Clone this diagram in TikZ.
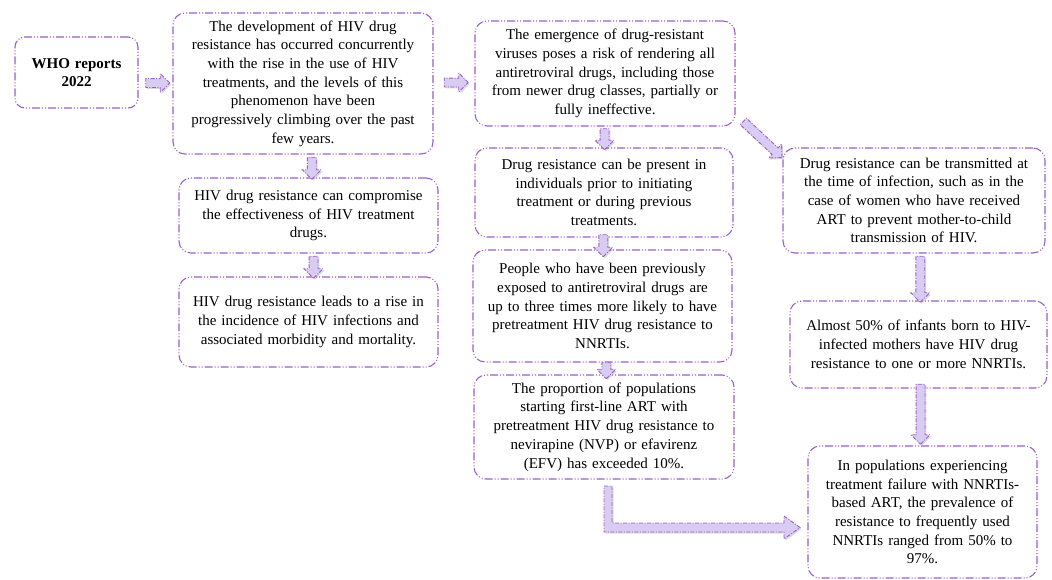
\documentclass[tikz,border=0pt]{standalone}
\usepackage{fontspec}
\setmainfont{Liberation Serif}
\usetikzlibrary{shapes.arrows, shadows, calc}

\definecolor{boxline}{RGB}{155,95,200}
\definecolor{arrowfill}{RGB}{217,204,242}
\newcommand{\boxfont}{\fontsize{15pt}{18.7pt}\selectfont}

\begin{document}
\begin{tikzpicture}[
    x=1pt, y=-1pt,
    box/.style={
      draw=boxline, line width=1.1pt, rounded corners=12pt,
      dash pattern=on 8pt off 2pt on 1pt off 2pt on 1pt off 2pt,
      align=center, inner sep=0pt, font=\boxfont
    },
    fatarrow/.style={
      single arrow, draw=boxline, fill=arrowfill, line width=0.9pt,
      dash pattern=on 4pt off 1.5pt on 1pt off 1.5pt,
      inner sep=0pt, text height=4pt, text depth=4pt,
      single arrow head extend=5pt,
      drop shadow={opacity=0.3, shadow xshift=1.5pt, shadow yshift=-1.5pt}
    }
  ]
  \useasboundingbox (0,0) rectangle (1052,579);

  % left column
  \node[box, minimum width=123pt, minimum height=71pt, text width=110pt,
    font=\boxfont\bfseries, rounded corners=10pt] (who) at (76.5,72.5)
    {WHO reports\\2022};
  \node[box, minimum width=260pt, minimum height=141pt, text width=244pt] (dev) at (303,83.5)
    {The development of HIV drug\\resistance has occurred concurrently\\with the rise in the use of HIV\\treatments, and the levels of this\\phenomenon have been\\progressively climbing over the past\\few years.};
  \node[box, minimum width=259pt, minimum height=75pt, text width=244pt] (comp) at (308.5,215.5)
    {HIV drug resistance can compromise\\the effectiveness of HIV treatment\\drugs.};
  \node[box, minimum width=259pt, minimum height=90pt, text width=244pt] (rise) at (308.5,322)
    {HIV drug resistance leads to a rise in\\the incidence of HIV infections and\\associated morbidity and mortality.};

  % middle column
  \node[box, minimum width=260pt, minimum height=105pt, text width=244pt] (emer) at (605,73.5)
    {The emergence of drug-resistant\\viruses poses a risk of rendering all\\antiretroviral drugs, including those\\from newer drug classes, partially or\\fully ineffective.};
  \node[box, minimum width=258pt, minimum height=89pt, text width=244pt] (pres) at (604,192.5)
    {Drug resistance can be present in\\individuals prior to initiating\\treatment or during previous\\treatments.};
  \node[box, minimum width=259pt, minimum height=112pt, text width=244pt] (expo) at (602.5,306)
    {People who have been previously\\exposed to antiretroviral drugs are\\up to three times more likely to have\\pretreatment HIV drug resistance to\\NNRTIs.};
  \node[box, minimum width=260pt, minimum height=104pt, text width=244pt] (prop) at (604,427)
    {The proportion of populations\\starting first-line ART with\\pretreatment HIV drug resistance to\\nevirapine (NVP) or efavirenz\\(EFV) has exceeded 10\%.};

  % right column
  \node[box, minimum width=262pt, minimum height=105pt, text width=248pt] (tran) at (914,200.5)
    {Drug resistance can be transmitted at\\the time of infection, such as in the\\case of women who have received\\ART to prevent mother-to-child\\transmission of HIV.};
  \node[box, minimum width=257pt, minimum height=87pt, text width=244pt] (inf) at (918.5,344.5)
    {Almost 50\% of infants born to HIV-\\infected mothers have HIV drug\\resistance to one or more NNRTIs.};
  \node[box, minimum width=229pt, minimum height=132pt, text width=215pt] (fail) at (922.5,512)
    {In populations experiencing\\treatment failure with NNRTIs-\\based ART, the prevalence of\\resistance to frequently used\\NNRTIs ranged from 50\% to\\97\%.};

  % block arrows
  \node[fatarrow, minimum height=24pt] (a1) at ([yshift=-5pt]$(who.east)!0.5!(dev.west)$) {};
  \node[fatarrow, minimum height=24pt] (a2) at ([yshift=-4pt]$(dev.east)!0.5!(emer.west)$) {};
  \node[fatarrow, minimum height=22pt, rotate=-90] (a3) at ([xshift=6pt]$(dev.south)!0.5!(comp.north)$) {};
  \node[fatarrow, minimum height=22pt, rotate=-90] (a4) at ([xshift=5pt]$(comp.south)!0.5!(rise.north)$) {};
  \node[fatarrow, minimum height=21pt, rotate=-90] (a5) at ($(emer.south)!0.5!(pres.north)$) {};
  \node[fatarrow, minimum height=22pt, rotate=-90] (a6) at ($(pres.south)!0.5!(expo.north)$) {};
  \node[fatarrow, minimum height=16pt, rotate=-90] (a7) at ([xshift=3pt]$(expo.south)!0.5!(prop.north)$) {};
  \node[fatarrow, minimum height=53pt, rotate=-43] (a8) at (761,138) {};
  \node[fatarrow, minimum height=46pt, rotate=-90] (a9) at ([xshift=4pt]$(tran.south)!0.5!(inf.north)$) {};
  \node[fatarrow, minimum height=60pt, rotate=-90] (a10) at (920.5,412) {};

  % elbow arrow
  \draw[boxline, fill=arrowfill, line width=0.9pt,
    dash pattern=on 4pt off 1.5pt on 1pt off 1.5pt,
    drop shadow={opacity=0.3, shadow xshift=1.5pt, shadow yshift=-1.5pt}]
    (604,486) -- (612,486) -- (612,523) -- (784,523) -- (784,516)
    -- (800,527.5) -- (784,539) -- (784,532) -- (604,532) -- cycle;
\end{tikzpicture}
\end{document}
